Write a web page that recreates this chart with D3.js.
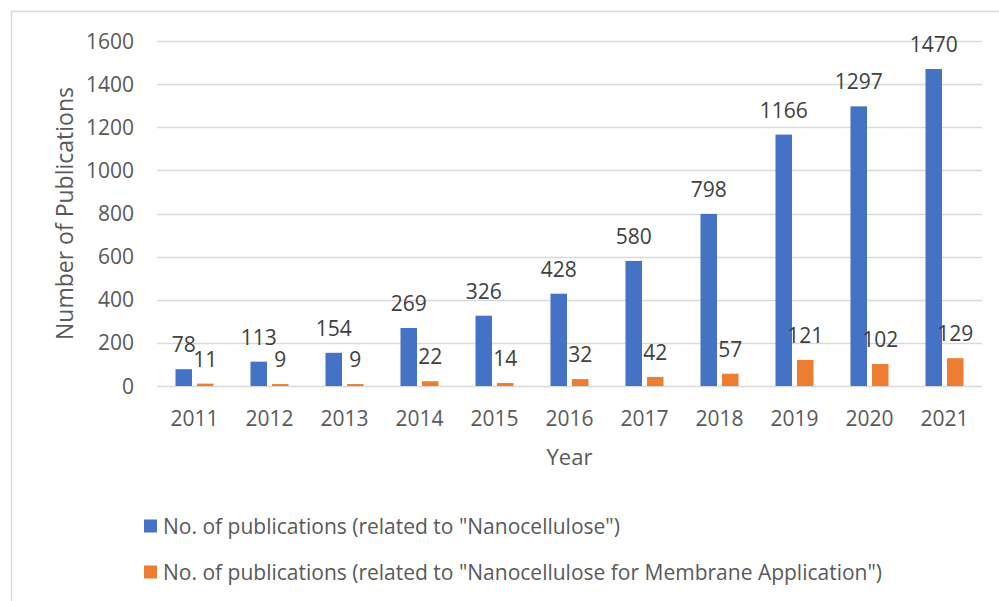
<!DOCTYPE html>
<html>
<head>
<meta charset="utf-8">
<script src="https://cdn.jsdelivr.net/npm/d3@7"></script>
<style>
  body { margin: 0; background: #fff; }
  svg { display: block; }
</style>
</head>
<body>
<svg id="chart"></svg>
<script>
const years = ["2011","2012","2013","2014","2015","2016","2017","2018","2019","2020","2021"]
const nanocellulose = [78,113,154,269,326,428,580,798,1166,1297,1470]
const membrane = [11,9,9,22,14,32,42,57,121,102,129]
const seriesNames = [
  'No. of publications (related to "Nanocellulose")',
  'No. of publications (related to "Nanocellulose for Membrane Application")'
]
const yTicks = [0,200,400,600,800,1000,1200,1400,1600]

const colors = ["#4472C4", "#ED7D31"]
const textColor = "#595959"
const width = 999, height = 601
const margin = {left: 157, right: 17, top: 41, bottom: 215}
const font = "'Open Sans', sans-serif"

const svg = d3.select("#chart")
  .attr("width", width)
  .attr("height", height)

// outer frame
svg.append("rect")
  .attr("x", 11.5).attr("y", 11.5)
  .attr("width", width + 20).attr("height", height + 20)
  .attr("fill", "none")
  .attr("stroke", "#d9d9d9")
  .attr("stroke-width", 1.5)

const x = d3.scaleBand()
  .domain(years)
  .range([margin.left, width - margin.right])

const y = d3.scaleLinear()
  .domain([0, 1600])
  .range([height - margin.bottom, margin.top])

// gridlines
svg.append("g")
  .selectAll("line")
  .data(yTicks)
  .join("line")
  .attr("x1", margin.left)
  .attr("x2", width - margin.right)
  .attr("y1", d => Math.round(y(d)) + 0.5)
  .attr("y2", d => Math.round(y(d)) + 0.5)
  .attr("stroke", "#d9d9d9")
  .attr("stroke-width", 1.5)

// y tick labels
svg.append("g")
  .style("font", `21px ${font}`)
  .attr("fill", textColor)
  .selectAll("text")
  .data(yTicks)
  .join("text")
  .attr("x", 134)
  .attr("y", d => y(d))
  .attr("dy", "0.36em")
  .attr("text-anchor", "end")
  .text(d => d)

// year labels
svg.append("g")
  .style("font", `21px ${font}`)
  .attr("fill", textColor)
  .selectAll("text")
  .data(years)
  .join("text")
  .attr("x", d => x(d) + x.bandwidth() / 2)
  .attr("y", 426)
  .attr("text-anchor", "middle")
  .text(d => d)

const bw = x.bandwidth() * 0.22
const gap = x.bandwidth() * 0.067
const series = [nanocellulose, membrane]

series.forEach((vals, s) => {
  const xo = s === 0 ? -gap / 2 - bw : gap / 2
  const g = svg.append("g")
  g.selectAll("rect")
    .data(vals)
    .join("rect")
    .attr("x", (d, i) => x(years[i]) + x.bandwidth() / 2 + xo)
    .attr("y", d => y(d))
    .attr("width", bw)
    .attr("height", d => y(0) - y(d))
    .attr("fill", colors[s])
  g.selectAll("text")
    .data(vals)
    .join("text")
    .attr("x", (d, i) => x(years[i]) + x.bandwidth() / 2 + xo + bw / 2)
    .attr("y", d => y(d) - 17)
    .attr("text-anchor", "middle")
    .style("font", `21px ${font}`)
    .attr("fill", "#404040")
    .text(d => d)
})

// axis titles
svg.append("text")
  .attr("transform", `translate(73,${(margin.top + y(0)) / 2}) rotate(-90)`)
  .attr("text-anchor", "middle")
  .style("font", `23px ${font}`)
  .attr("fill", textColor)
  .text("Number of Publications")

svg.append("text")
  .attr("x", (margin.left + width - margin.right) / 2)
  .attr("y", 465)
  .attr("text-anchor", "middle")
  .style("font", `22px ${font}`)
  .attr("fill", textColor)
  .text("Year")

// legend
const legend = svg.append("g")
  .selectAll("g")
  .data(seriesNames)
  .join("g")
  .attr("transform", (d, i) => `translate(144,${526 + i * 46})`)
legend.append("rect")
  .attr("x", 0).attr("y", -6.5)
  .attr("width", 13).attr("height", 13)
  .attr("fill", (d, i) => colors[i])
legend.append("text")
  .attr("x", 19)
  .attr("dy", "0.36em")
  .style("font", `21px ${font}`)
  .attr("fill", textColor)
  .text(d => d)
</script>
</body>
</html>
